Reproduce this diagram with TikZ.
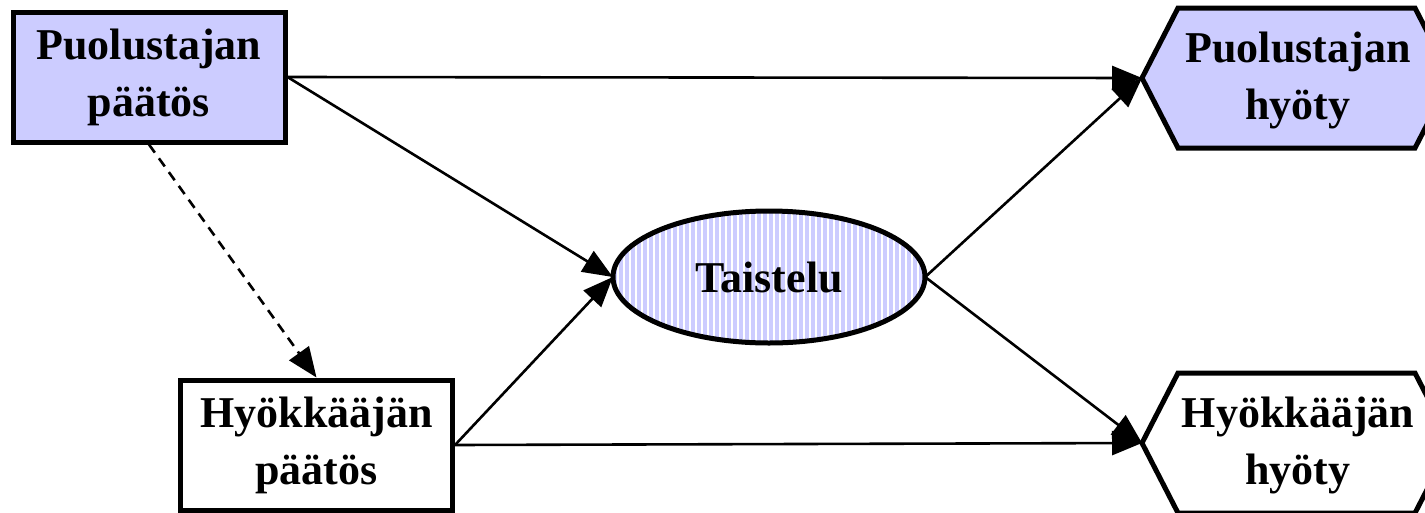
\documentclass[tikz,border=0pt]{standalone}
\usepackage{fontspec}
\setmainfont{Liberation Serif}
\usetikzlibrary{arrows.meta,shapes.geometric}
\definecolor{lblue}{HTML}{CCCCFF}
\begin{document}
\begin{tikzpicture}[x=1pt,y=-1pt,
  lbl/.style={font=\fontsize{44}{57}\selectfont\bfseries, align=center},
  boxnode/.style={lbl, draw, line width=5pt, minimum width=272pt, minimum height=130pt, inner sep=0pt},
  conn/.style={line width=2.6pt, -{Triangle[length=30pt,width=24pt]}},
  hexline/.style={draw, line width=5pt, line join=miter}
]
\useasboundingbox (0,0) rectangle (1425,512);
% decision boxes
\node[boxnode, fill=lblue] (pd) at (149,77) {Puolustajan\\päätös};
\node[boxnode, fill=white] (hd) at (316.5,445) {Hyökkääjän\\päätös};
% battle ellipse with stripes
\node[ellipse, minimum width=312pt, minimum height=132pt, inner sep=0pt] (ell) at (769,277) {};
\begin{scope}
  \clip (769,277) ellipse [x radius=156, y radius=66];
  \fill[white] (613,211) rectangle (925,343);
  \foreach \i in {0,...,53} {
    \fill[lblue] (613+\i*6,200) rectangle (616.5+\i*6,350);
  }
\end{scope}
\draw[line width=5pt] (769,277) ellipse [x radius=156, y radius=66];
\node[lbl] (ellt) at (769,277) {Taistelu};
% utility hexagons
\coordinate (phtip) at (1142,78);
\coordinate (hhtip) at (1142,443);
\fill[lblue] (phtip) -- (1178,8) -- (1415,8) -- (1451,78) -- (1415,148) -- (1178,148) -- cycle;
\draw[hexline] (phtip) -- (1178,8) -- (1415,8) -- (1451,78) -- (1415,148) -- (1178,148) -- cycle;
\node[lbl] (pht) at (1298,80) {Puolustajan\\hyöty};
\fill[white] (hhtip) -- (1178,373) -- (1415,373) -- (1451,443) -- (1415,513) -- (1178,513) -- cycle;
\draw[hexline] (hhtip) -- (1178,373) -- (1415,373) -- (1451,443) -- (1415,513) -- (1178,513) -- cycle;
\node[lbl] (hht) at (1298,445) {Hyökkääjän\\hyöty};
% connectors
\draw[conn] (pd.east) -- (phtip);
\draw[conn] (pd.east) -- (ell.west);
\draw[conn, dash pattern=on 10pt off 7pt] (pd.south) -- (hd.north);
\draw[conn] (hd.east) -- (ell.west);
\draw[conn] (hd.east) -- (hhtip);
\draw[conn] (ell.east) -- (phtip);
\draw[conn] (ell.east) -- (hhtip);
\end{tikzpicture}
\end{document}
